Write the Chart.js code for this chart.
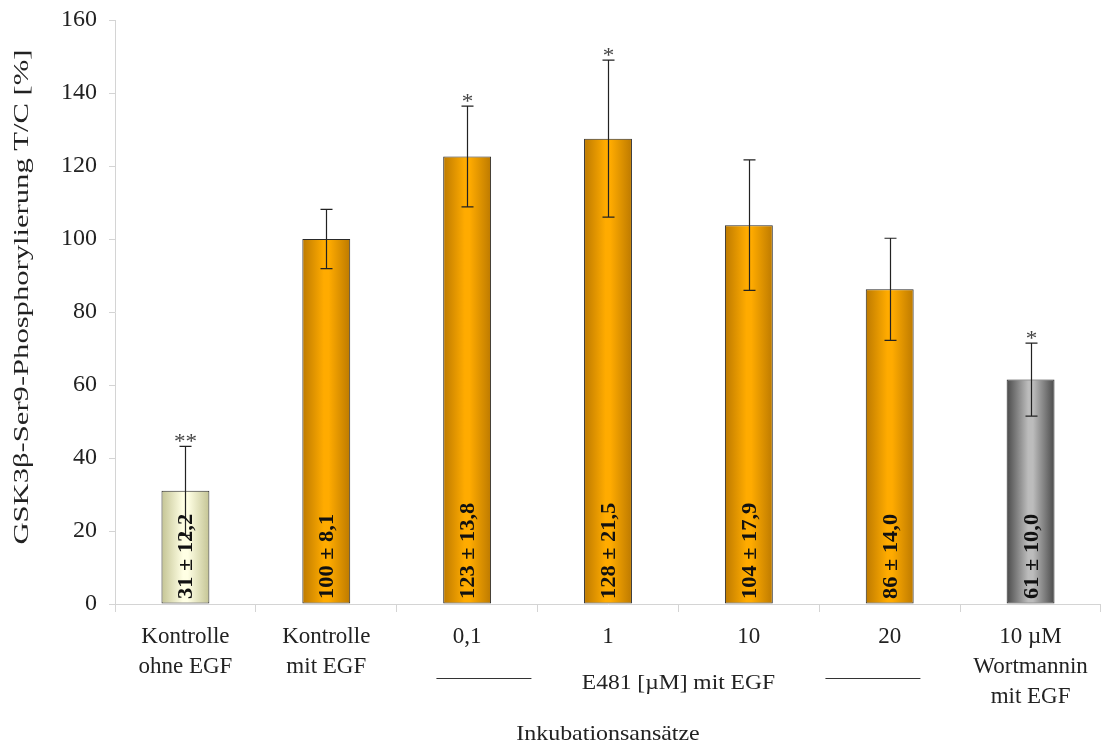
<!DOCTYPE html>
<html><head><meta charset="utf-8">
<script src="https://cdn.jsdelivr.net/npm/chart.js@4/dist/chart.umd.min.js"></script>
<style>html,body{margin:0;padding:0;background:#fff}#wrap{width:1101px;height:747px}</style>
</head><body><div id="wrap"><canvas id="c" width="1101" height="747"></canvas></div>
<script>
const categories = [["Kontrolle","ohne EGF"],["Kontrolle","mit EGF"],"0,1","1","10","20",["10 µM","Wortmannin","mit EGF"]];
const values = [31, 100, 122.6, 127.5, 103.8, 86.2, 61.5];
const errors = [12.2, 8.1, 13.8, 21.5, 17.9, 14.0, 10.0];
const valueLabels = ["31 ± 12,2","100 ± 8,1","123 ± 13,8","128 ± 21,5","104 ± 17,9","86 ± 14,0","61 ± 10,0"];
const significance = ["**","","*","*","","","*"];
const yTicks = [0,20,40,60,80,100,120,140,160];
const groupLabel = "E481 [µM] mit EGF";
const yTitle = "GSK3β-Ser9-Phosphorylierung T/C [%]";
const xTitle = "Inkubationsansätze";

const edgeColors = ["#c4c494","#bd7a00","#bd7a00","#bd7a00","#bd7a00","#bd7a00","#4a4a4a"];
const midColors  = ["#ffffe4","#ffab00","#ffab00","#ffab00","#ffab00","#ffab00","#bcbcbc"];
const BAR_FRAC = 0.34;
const FONT = "'Liberation Serif','Times New Roman',serif";
const TXT = "#222";

function barFill(ctx){
  const chart = ctx.chart, i = ctx.dataIndex;
  const xs = chart.scales && chart.scales.x;
  if (!xs || !chart.chartArea || i === undefined) return midColors[i||0];
  const cx = xs.getPixelForValue(i);
  const w = xs.width / categories.length * BAR_FRAC;
  const g = chart.ctx.createLinearGradient(cx - w/2, 0, cx + w/2, 0);
  g.addColorStop(0, edgeColors[i]);
  g.addColorStop(0.45, midColors[i]);
  g.addColorStop(0.55, midColors[i]);
  g.addColorStop(1, edgeColors[i]);
  return g;
}

function stretchedText(c, text, x, y, rot, sx, align){
  c.save();
  c.translate(x, y);
  c.rotate(rot);
  c.scale(sx, 1);
  c.textAlign = align;
  c.fillText(text, 0, 0);
  c.restore();
}

const overlay = {
  id: 'overlay',
  afterDatasetsDraw(chart){
    const c = chart.ctx, xs = chart.scales.x, ys = chart.scales.y, ca = chart.chartArea;
    const cap = 6;
    c.save();
    values.forEach((v,i)=>{
      const cx = Math.round(xs.getPixelForValue(i)) + 0.5;
      const top = ys.getPixelForValue(v + errors[i]);
      const bot = ys.getPixelForValue(v - errors[i]);
      c.strokeStyle = "#222"; c.lineWidth = 1.2;
      c.beginPath();
      c.moveTo(cx, top); c.lineTo(cx, bot);
      c.moveTo(cx-cap, top); c.lineTo(cx+cap, top);
      c.moveTo(cx-cap, bot); c.lineTo(cx+cap, bot);
      c.stroke();
      if (significance[i]) {
        c.fillStyle = "#444"; c.font = "22px " + FONT;
        c.textBaseline = "alphabetic";
        stretchedText(c, significance[i], cx, top + 2, 0, 1.05, "center");
      }
      c.fillStyle = "#111"; c.font = "bold 20px " + FONT;
      c.textBaseline = "middle";
      stretchedText(c, valueLabels[i], cx + 1, ys.getPixelForValue(0) - 5, -Math.PI/2, 1.12, "left");
    });
    // group label with lines
    const left = xs.getPixelForValue(2), right = xs.getPixelForValue(5);
    const mid = (left + right) / 2;
    c.fillStyle = TXT; c.font = "21px " + FONT;
    c.textBaseline = "middle";
    stretchedText(c, groupLabel, mid, 683, 0, 1.12, "center");
    c.strokeStyle = "#333"; c.lineWidth = 1;
    c.beginPath();
    c.moveTo(mid - 242, 678.5); c.lineTo(mid - 147, 678.5);
    c.moveTo(mid + 147, 678.5); c.lineTo(mid + 242, 678.5);
    c.stroke();
    // y axis title
    c.fillStyle = TXT; c.font = "22px " + FONT;
    c.textBaseline = "middle";
    const w = c.measureText(yTitle).width;
    stretchedText(c, yTitle, 22, 297, -Math.PI/2, 495 / w, "center");
    // x axis title
    c.font = "21px " + FONT;
    c.textBaseline = "middle";
    stretchedText(c, xTitle, (ca.left + ca.right) / 2, 734, 0, 1.14, "center");
    c.restore();
  }
};

new Chart(document.getElementById('c'), {
  type: 'bar',
  data: {
    labels: categories,
    datasets: [{
      data: values,
      backgroundColor: barFill,
      borderColor: "#2a2a2a",
      borderWidth: 1,
      borderSkipped: false,
      categoryPercentage: 1,
      barPercentage: BAR_FRAC
    }]
  },
  options: {
    responsive: false,
    animation: false,
    devicePixelRatio: 1,
    layout: { padding: { top: 20, right: 0, left: 0, bottom: 0 } },
    plugins: { legend: { display: false }, tooltip: { enabled: false } },
    scales: {
      x: {
        grid: { drawOnChartArea: false, tickLength: 8, color: "#d4d4d4" },
        border: { color: "#d4d4d4" },
        ticks: { color: TXT, font: { family: FONT, size: 23, lineHeight: 1.3 }, padding: 10, maxRotation: 0, autoSkip: false },
        title: { display: false },
        afterFit(s){ s.height = 143; s.paddingLeft = 0; s.paddingRight = 0; }
      },
      y: {
        min: 0, max: 160,
        afterBuildTicks(s){ s.ticks = yTicks.map(v=>({value:v})); },
        grid: { drawOnChartArea: false, tickLength: 6, color: "#d4d4d4" },
        border: { color: "#d4d4d4" },
        ticks: { color: TXT, font: { family: FONT, size: 24 }, padding: 12 },
        title: { display: false },
        afterFit(s){ s.width = 115; s.paddingTop = 0; s.paddingBottom = 0; }
      }
    }
  },
  plugins: [overlay]
});
</script>
</body></html>
